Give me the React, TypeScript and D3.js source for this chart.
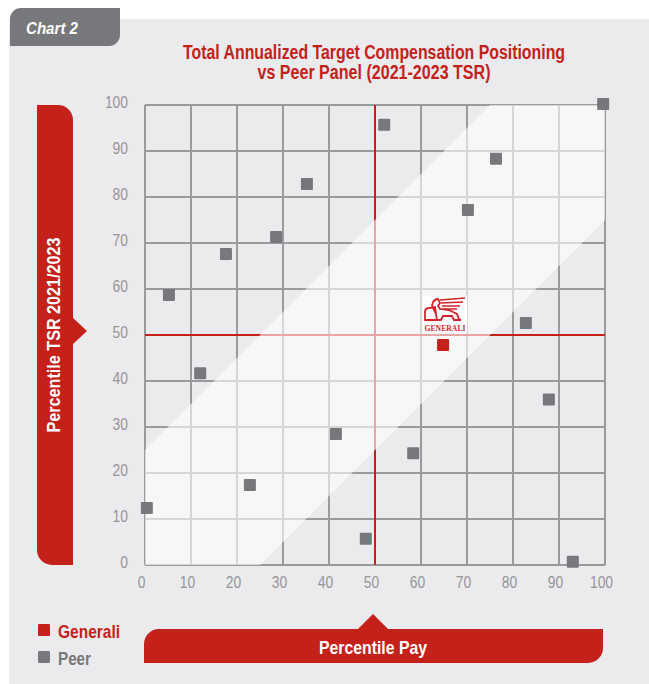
import { useEffect, useRef } from 'react';
import * as d3 from 'd3';

const peerPay = [0.4, 5.2, 12, 17.6, 22.8, 28.5, 35.2, 41.5, 48, 52, 58.3, 70.2, 76.3, 82.8, 87.8, 93, 99.6];
const peerTsr = [12.4, 58.7, 41.7, 67.6, 17.4, 71.3, 82.8, 28.5, 5.7, 95.7, 24.3, 77.2, 88.3, 52.6, 36, 0.7, 100.2];
const generaliPay = [64.8];
const generaliTsr = [47.8];
const bandOutline = [[0, 0], [25, 0], [100, 75], [100, 100], [75, 100], [0, 25]];
const tickValues = [0, 10, 20, 30, 40, 50, 60, 70, 80, 90, 100];
const titleLines = ['Total Annualized Target Compensation Positioning', 'vs Peer Panel (2021-2023 TSR)'];
const titleWidths = [382, 233];

const RED = '#c4211a';
const GREY = '#77787b';
const FONT = '"Liberation Sans", sans-serif';

// rectangle with only two opposite corners rounded (top-right/bottom-left or top-left/bottom-right)
function sheet(x: number, y: number, w: number, h: number, r: number, topLeft: boolean) {
  const p = d3.path();
  if (topLeft) {
    p.moveTo(x + r, y);
    p.lineTo(x + w, y);
    p.lineTo(x + w, y + h - r);
    p.arcTo(x + w, y + h, x + w - r, y + h, r);
    p.lineTo(x, y + h);
    p.lineTo(x, y + r);
    p.arcTo(x, y, x + r, y, r);
  } else {
    p.moveTo(x, y);
    p.lineTo(x + w - r, y);
    p.arcTo(x + w, y, x + w, y + r, r);
    p.lineTo(x + w, y + h);
    p.lineTo(x + r, y + h);
    p.arcTo(x, y + h, x, y + h - r, r);
  }
  p.closePath();
  return p.toString();
}

export default function App() {
  const ref = useRef<SVGSVGElement>(null);

  useEffect(() => {
    const svg = d3.select(ref.current);
    svg.selectAll('*').remove();

    const x = d3.scaleLinear().domain([0, 100]).range([145, 605]);
    const y = d3.scaleLinear().domain([0, 100]).range([565, 105]);

    // no narrow font installed, so the condensed type is squeezed to the measured width
    const boldText = (px: number, py: number, str: string, size: number, width: number, color: string) =>
      svg.append('text').attr('x', px).attr('y', py).attr('fill', color)
        .attr('font-family', FONT).attr('font-size', size).attr('font-weight', 700)
        .attr('textLength', width).attr('lengthAdjust', 'spacingAndGlyphs')
        .text(str);

    svg.append('rect').attr('x', 9).attr('y', 19).attr('width', 640).attr('height', 665).attr('fill', '#ebebed');
    svg.append('path').attr('d', sheet(10, 8, 110, 38, 11, true)).attr('fill', GREY);
    boldText(26, 34, 'Chart 2', 17, 52, '#fff').attr('font-style', 'italic');

    titleLines.forEach((t, i) => {
      boldText(374, 59 + i * 20, t, 19.5, titleWidths[i], RED).attr('text-anchor', 'middle');
    });

    // grid
    const grid = svg.append('g').attr('stroke', '#999a9c').attr('stroke-width', 2).attr('fill', 'none');
    tickValues.forEach(t => {
      grid.append('line').attr('x1', x(t)).attr('x2', x(t)).attr('y1', y(0)).attr('y2', y(100));
      grid.append('line').attr('x1', x(0)).attr('x2', x(100)).attr('y1', y(t)).attr('y2', y(t));
    });

    // median lines
    svg.append('line').attr('x1', x(50)).attr('x2', x(50)).attr('y1', y(0)).attr('y2', y(100))
      .attr('stroke', RED).attr('stroke-width', 2);
    svg.append('line').attr('x1', x(0)).attr('x2', x(100)).attr('y1', y(50)).attr('y2', y(50))
      .attr('stroke', RED).attr('stroke-width', 2);

    // diagonal band
    const line = d3.line<number[]>().x(d => x(d[0])).y(d => y(d[1]));
    svg.append('path').attr('d', line(bandOutline) + 'Z').attr('fill', '#fff').attr('fill-opacity', 0.6);

    // axis labels
    const xAxis = svg.append('g').attr('transform', 'translate(-4,565)')
      .call(d3.axisBottom(x).tickValues(tickValues).tickSize(0).tickPadding(12).tickFormat(d => String(d)));
    const yAxis = svg.append('g').attr('transform', 'translate(128,-3)')
      .call(d3.axisLeft(y).tickValues(tickValues).tickSize(0).tickPadding(0).tickFormat(d => String(d)));
    [xAxis, yAxis].forEach(a => {
      a.select('.domain').remove();
      a.selectAll<SVGTextElement, number>('text')
        .attr('fill', '#939598').attr('font-family', FONT).attr('font-size', 16)
        .attr('textLength', d => String(d).length * 7.7).attr('lengthAdjust', 'spacingAndGlyphs');
    });

    // Generali logo
    const logo = svg.append('g').attr('transform', 'translate(423,296)');
    logo.append('rect').attr('width', 44).attr('height', 37).attr('fill', '#fff');
    logo.append('path')
      .attr('d', 'M2 24V16Q2 12 6 12L12 11L14 24ZM9 10L10 6Q12 3 15 3L17 7L15 10L17 13L26 14L30 16L34 18L36 23L38 24H31L29 20L20 20L18 24H14L13 18Z')
      .attr('fill', 'none').attr('stroke', '#d2232a').attr('stroke-width', 1.8);
    logo.append('path')
      .attr('d', 'M17 4L42 2M18 7L40 6M19 10L37 10M21 13L34 13')
      .attr('fill', 'none').attr('stroke', '#d2232a').attr('stroke-width', 1.6);
    logo.append('text').attr('x', 22).attr('y', 35).attr('text-anchor', 'middle').attr('fill', '#d2232a')
      .attr('font-family', '"Liberation Serif", serif').attr('font-size', 9).attr('font-weight', 700)
      .attr('textLength', 41).attr('lengthAdjust', 'spacingAndGlyphs')
      .text('GENERALI');

    // points
    const marker = (cx: number, cy: number, color: string) =>
      svg.append('rect').attr('x', x(cx) - 6).attr('y', y(cy) - 6).attr('width', 12).attr('height', 12)
        .attr('rx', 1).attr('fill', color);
    peerPay.forEach((d, i) => marker(d, peerTsr[i], GREY));
    generaliPay.forEach((d, i) => marker(d, generaliTsr[i], RED));

    // y axis sheet
    svg.append('path').attr('d', sheet(37, 105, 36, 460, 15, false)).attr('fill', RED);
    svg.append('path').attr('d', 'M72 317L87 331L72 345Z').attr('fill', RED);
    boldText(0, 0, 'Percentile TSR 2021/2023', 19, 195, '#fff')
      .attr('text-anchor', 'middle').attr('transform', 'translate(60,335) rotate(-90)');

    // x axis sheet
    svg.append('path').attr('d', sheet(144, 629, 459, 34, 15, true)).attr('fill', RED);
    svg.append('path').attr('d', 'M358 629L373 614L388 629Z').attr('fill', RED);
    boldText(373, 654, 'Percentile Pay', 19, 108, '#fff').attr('text-anchor', 'middle');

    // legend
    svg.append('rect').attr('x', 38).attr('y', 624).attr('width', 12).attr('height', 12).attr('rx', 1).attr('fill', RED);
    boldText(58, 638, 'Generali', 18.5, 62, RED);
    svg.append('rect').attr('x', 38).attr('y', 651).attr('width', 12).attr('height', 12).attr('rx', 1).attr('fill', GREY);
    boldText(58, 665, 'Peer', 18.5, 33, GREY);
  }, []);

  return <svg ref={ref} width={649} height={684} style={{ position: 'absolute', left: 0, top: 0, background: '#fff' }} />;
}
